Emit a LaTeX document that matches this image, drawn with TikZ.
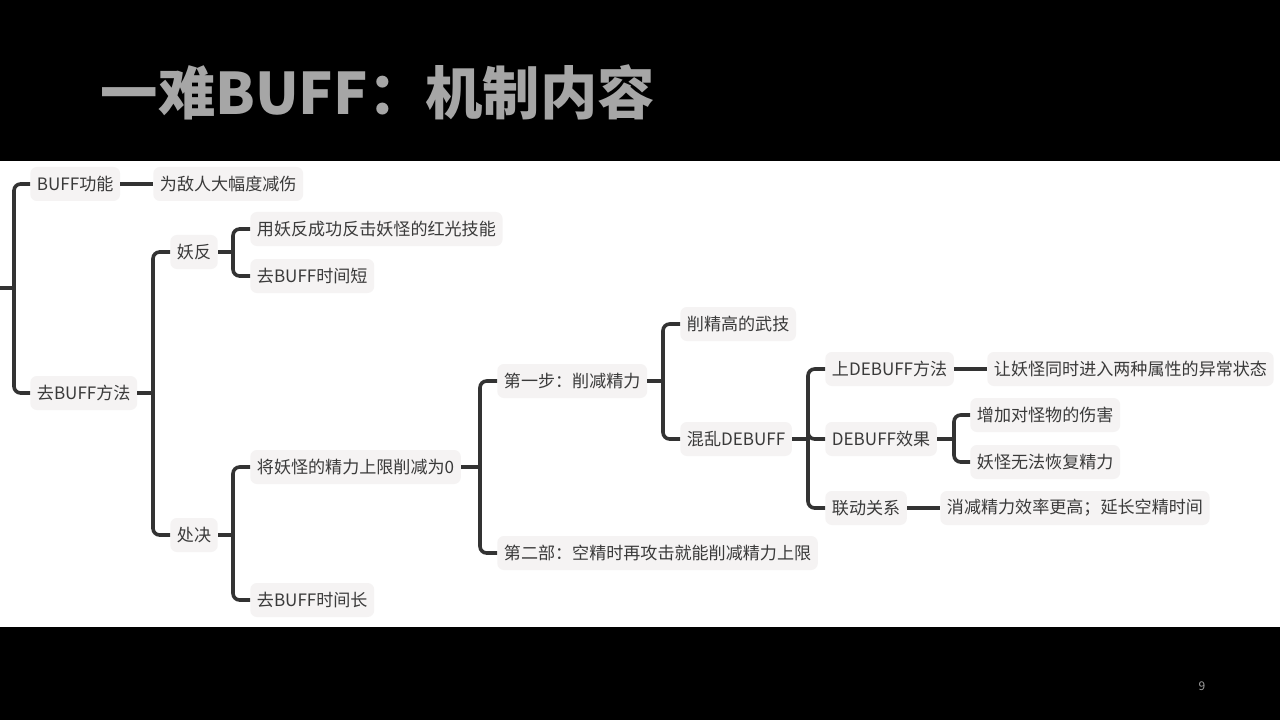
\documentclass[tikz,border=0pt]{standalone}
\usepackage{fontspec}
\usepackage{xcolor}
\newfontfamily\cjk{Noto Sans CJK SC}
\definecolor{boxgray}{HTML}{F5F3F3}
\definecolor{linegray}{HTML}{333333}
\definecolor{textgray}{HTML}{3A3A3A}
\definecolor{titlegray}{HTML}{A6A6A6}
\newcommand{\boxfont}{\cjk\fontsize{12.8}{14}\selectfont}

\begin{document}
\begin{tikzpicture}[x=0.75pt,y=-0.75pt,
    box/.style={fill=boxgray, rounded corners=5pt, text=textgray, inner xsep=5pt, inner ysep=0pt,
        minimum height=25.5pt, anchor=west, font=\boxfont},
    link/.style={draw=linegray, line width=2.7pt},
    fork/.style={link, rounded corners=5pt}]

        \fill[black] (0,0) rectangle (1280,720);
        \fill[white] (0,161) rectangle (1280,627);
        \useasboundingbox (0,0) rectangle (1280,720);

        \node[anchor=west, text=titlegray, font=\cjk\bfseries\fontsize{43}{47}\selectfont] (title) at (96,92) {一难BUFF：机制内容};
        \node[text=gray!75, font=\cjk\fontsize{9}{10}\selectfont] (page) at (1202,686) {9};

        \node[box] (buffgn) at (30,184) {BUFF功能};
        \node[box] (jianshang) at (153,184) {为敌人大幅度减伤};
        \node[box] (qufa) at (30,393) {去BUFF方法};

        \node[box] (yaofan) at (170,252) {妖反};
        \node[box] (fanji) at (250,229) {用妖反成功反击妖怪的红光技能};
        \node[box] (duan) at (250,276) {去BUFF时间短};

        \node[box] (chujue) at (170,535) {处决};
        \node[box] (xuejian) at (250,467) {将妖怪的精力上限削减为0};
        \node[box] (chang) at (250,600) {去BUFF时间长};

        \node[box] (step1) at (497,381) {第一步：削减精力};
        \node[box] (step2) at (497,553) {第二部：空精时再攻击就能削减精力上限};
        \node[box] (wuji) at (680,324) {削精高的武技};
        \node[box] (hunluan) at (680,439) {混乱DEBUFF};

        \node[box] (shangde) at (825,369) {上DEBUFF方法};
        \node[box] (yichang) at (987,369) {让妖怪同时进入两种属性的异常状态};
        \node[box] (xiaoguo) at (825,439) {DEBUFF效果};
        \node[box] (shanghai) at (970,415) {增加对怪物的伤害};
        \node[box] (huifu) at (970,462) {妖怪无法恢复精力};
        \node[box] (liandong) at (825,508) {联动关系};
        \node[box] (kongjing) at (940,508) {消减精力效率更高；延长空精时间};

        \coordinate (root) at (0,288);
        \coordinate (j0) at (14,288);
        \coordinate (j1) at (153,393);
        \coordinate (j2) at (233,252);
        \coordinate (j3) at (233,535);
        \coordinate (j4) at (480,467);
        \coordinate (j5) at (663,381);
        \coordinate (j6) at (808,439);
        \coordinate (j7) at (954,439);

        \draw[link] (root) -- (j0);
        \draw[fork] (j0) |- (buffgn.west);
        \draw[fork] (j0) |- (qufa.west);
        \draw[link] (buffgn) -- (jianshang);

        \draw[link] (qufa) -- (j1);
        \draw[fork] (j1) |- (yaofan.west);
        \draw[fork] (j1) |- (chujue.west);

        \draw[link] (yaofan) -- (j2);
        \draw[fork] (j2) |- (fanji.west);
        \draw[fork] (j2) |- (duan.west);

        \draw[link] (chujue) -- (j3);
        \draw[fork] (j3) |- (xuejian.west);
        \draw[fork] (j3) |- (chang.west);

        \draw[link] (xuejian) -- (j4);
        \draw[fork] (j4) |- (step1.west);
        \draw[fork] (j4) |- (step2.west);

        \draw[link] (step1) -- (j5);
        \draw[fork] (j5) |- (wuji.west);
        \draw[fork] (j5) |- (hunluan.west);

        \draw[link] (hunluan) -- (j6);
        \draw[fork] (j6) |- (shangde.west);
        \draw[fork] (j6) |- (xiaoguo.west);
        \draw[fork] (j6) |- (liandong.west);
        \draw[link] (shangde) -- (yichang);
        \draw[link] (liandong) -- (kongjing);

        \draw[link] (xiaoguo) -- (j7);
        \draw[fork] (j7) |- (shanghai.west);
        \draw[fork] (j7) |- (huifu.west);

    \end{tikzpicture}
\end{document}
